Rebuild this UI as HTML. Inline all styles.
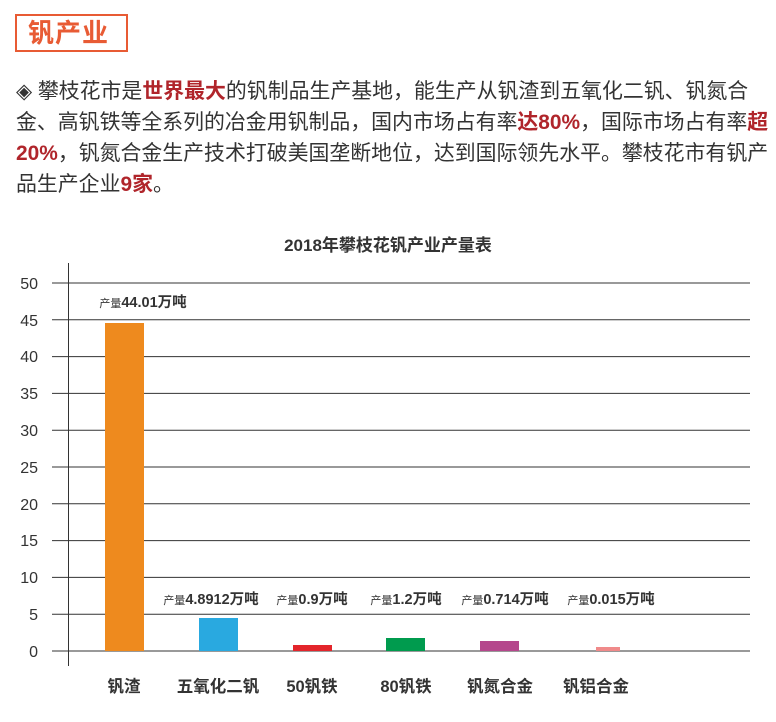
<!DOCTYPE html>
<html><head><meta charset="utf-8"><style>
body{margin:0;width:776px;height:722px;background:#fff;position:relative;overflow:hidden;font-family:"Liberation Sans","Noto Sans CJK SC",sans-serif;color:#333}
.tb{position:absolute;left:15px;top:14px;width:113px;height:38px;border:2px solid #e85b34;box-sizing:border-box;color:#e85b34;font-size:26px;font-weight:bold;line-height:34px;padding-left:11px;letter-spacing:1px}
.p{position:absolute;left:16px;top:76px;font-size:20.9px;line-height:31px;color:#333;white-space:nowrap}
.r{color:#b0252b;font-weight:bold}
</style></head><body>
<div class="tb">钒产业</div>
<div class="p">◈ 攀枝花市是<span class="r">世界最大</span>的钒制品生产基地，能生产从钒渣到五氧化二钒、钒氮合<br>金、高钒铁等全系列的冶金用钒制品，国内市场占有率<span class="r">达80%</span>，国际市场占有率<span class="r">超</span><br><span class="r">20%</span>，钒氮合金生产技术打破美国垄断地位，达到国际领先水平。攀枝花市有钒产<br>品生产企业<span class="r">9家</span>。</div>
<svg width="776" height="722" style="position:absolute;left:0;top:0" font-family="Liberation Sans,Noto Sans CJK SC,sans-serif">
<text x="388" y="251" text-anchor="middle" font-size="17" font-weight="bold" fill="#333">2018年攀枝花钒产业产量表</text>
<g stroke="#333" stroke-width="1">
<line x1="52" x2="750" y1="283" y2="283"/><line x1="52" x2="750" y1="319.8" y2="319.8"/><line x1="52" x2="750" y1="356.6" y2="356.6"/><line x1="52" x2="750" y1="393.4" y2="393.4"/><line x1="52" x2="750" y1="430.2" y2="430.2"/><line x1="52" x2="750" y1="467" y2="467"/><line x1="52" x2="750" y1="503.8" y2="503.8"/><line x1="52" x2="750" y1="540.6" y2="540.6"/><line x1="52" x2="750" y1="577.4" y2="577.4"/><line x1="52" x2="750" y1="614.2" y2="614.2"/><line x1="52" x2="750" y1="651" y2="651"/>
<line x1="68.5" x2="68.5" y1="263" y2="666"/>
</g>
<g font-size="16" fill="#333" text-anchor="end">
<text x="38" y="289">50</text><text x="38" y="326">45</text><text x="38" y="362">40</text><text x="38" y="399">35</text><text x="38" y="436">30</text><text x="38" y="473">25</text><text x="38" y="510">20</text><text x="38" y="546">15</text><text x="38" y="583">10</text><text x="38" y="620">5</text><text x="38" y="657">0</text>
</g>
<rect x="105" y="323" width="39" height="328" fill="#ee8a1e"/>
<rect x="199" y="618" width="39" height="33" fill="#29a9e0"/>
<rect x="293" y="645" width="39" height="6" fill="#e3252b"/>
<rect x="386" y="638" width="39" height="13" fill="#009b4e"/>
<rect x="480" y="641" width="39" height="10" fill="#b5478c"/>
<rect x="596" y="647" width="24" height="4" fill="#f08a8a"/>
<g font-size="14.5" font-weight="bold" fill="#333" text-anchor="middle">
<text x="143" y="307"><tspan font-size="11" font-weight="normal">产量</tspan>44.01万吨</text>
<text x="211" y="604"><tspan font-size="11" font-weight="normal">产量</tspan>4.8912万吨</text>
<text x="312" y="604"><tspan font-size="11" font-weight="normal">产量</tspan>0.9万吨</text>
<text x="406" y="604"><tspan font-size="11" font-weight="normal">产量</tspan>1.2万吨</text>
<text x="505" y="604"><tspan font-size="11" font-weight="normal">产量</tspan>0.714万吨</text>
<text x="611" y="604"><tspan font-size="11" font-weight="normal">产量</tspan>0.015万吨</text>
</g>
<g font-size="16.5" font-weight="bold" fill="#333" text-anchor="middle">
<text x="124" y="692">钒渣</text><text x="218" y="692">五氧化二钒</text><text x="312" y="692">50钒铁</text><text x="406" y="692">80钒铁</text><text x="500" y="692">钒氮合金</text><text x="596" y="692">钒铝合金</text>
</g>
</svg>
</body></html>
